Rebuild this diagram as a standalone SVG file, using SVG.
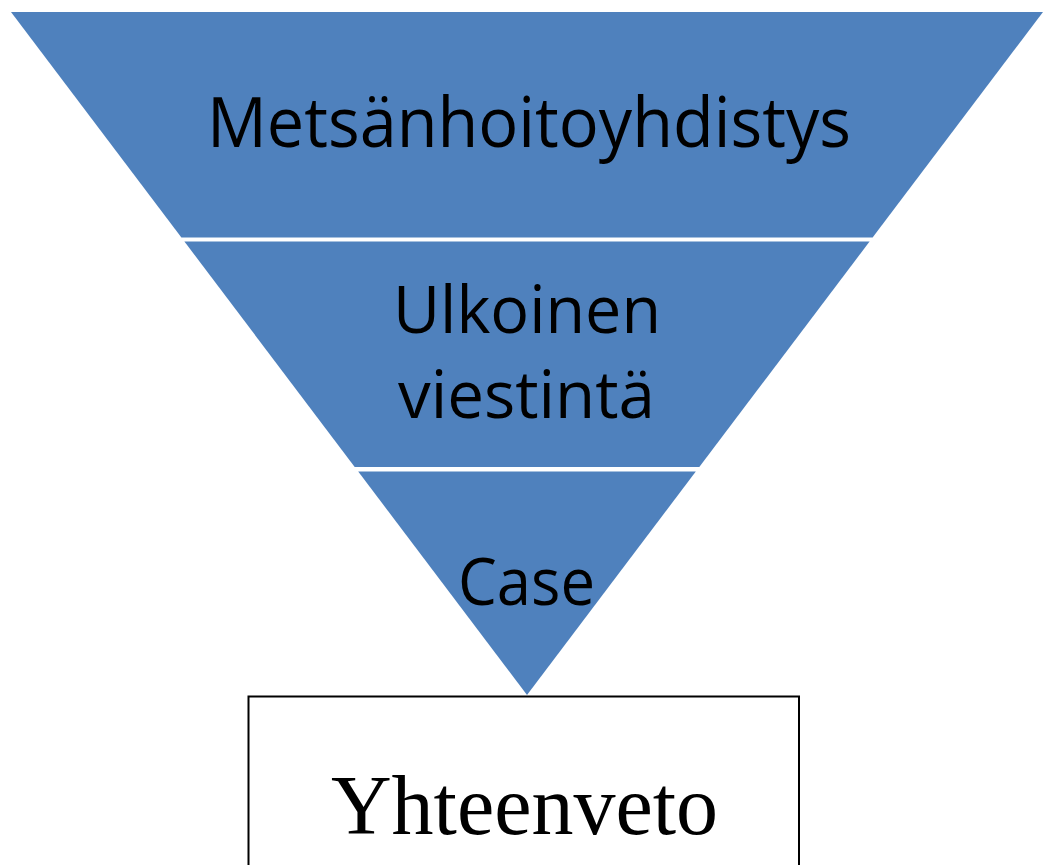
<svg xmlns="http://www.w3.org/2000/svg" width="1043" height="865" viewBox="0 0 1043 865">
<style>
.band{fill:#4F81BD;}
.lbl{font-family:"Open Sans","Noto Sans",sans-serif;fill:#000;text-anchor:middle;}
.box{fill:#fff;stroke:#000;stroke-width:2;}
.sum{font-family:"Liberation Serif","Times New Roman",serif;fill:#000;text-anchor:middle;font-size:84px;}
</style>
<rect width="1043" height="865" fill="#fff"/>
<g id="band-top">
<polygon class="band" points="11,12 1043,12 872.6,237.5 181.4,237.5"/>
<text class="lbl" x="529" y="147" font-size="69" textLength="644" lengthAdjust="spacingAndGlyphs">Metsänhoitoyhdistys</text>
</g>
<g id="band-middle">
<polygon class="band" points="184.4,241.5 869.6,241.5 699.3,467 354.7,467"/>
<text class="lbl" x="527" y="333" font-size="65" textLength="268" lengthAdjust="spacingAndGlyphs">Ulkoinen</text>
<text class="lbl" x="526.5" y="418" font-size="65" textLength="257" lengthAdjust="spacingAndGlyphs">viestintä</text>
</g>
<g id="band-bottom">
<polygon class="band" points="358.2,471.5 695.8,471.5 527,695"/>
<text class="lbl" x="526.5" y="605" font-size="65" textLength="137" lengthAdjust="spacingAndGlyphs">Case</text>
</g>
<g id="summary">
<rect class="box" x="248.5" y="696.5" width="550.5" height="200"/>
<text class="sum" x="524.5" y="834">Yhteenveto</text>
</g>
<g id="connectors"></g>
</svg>
